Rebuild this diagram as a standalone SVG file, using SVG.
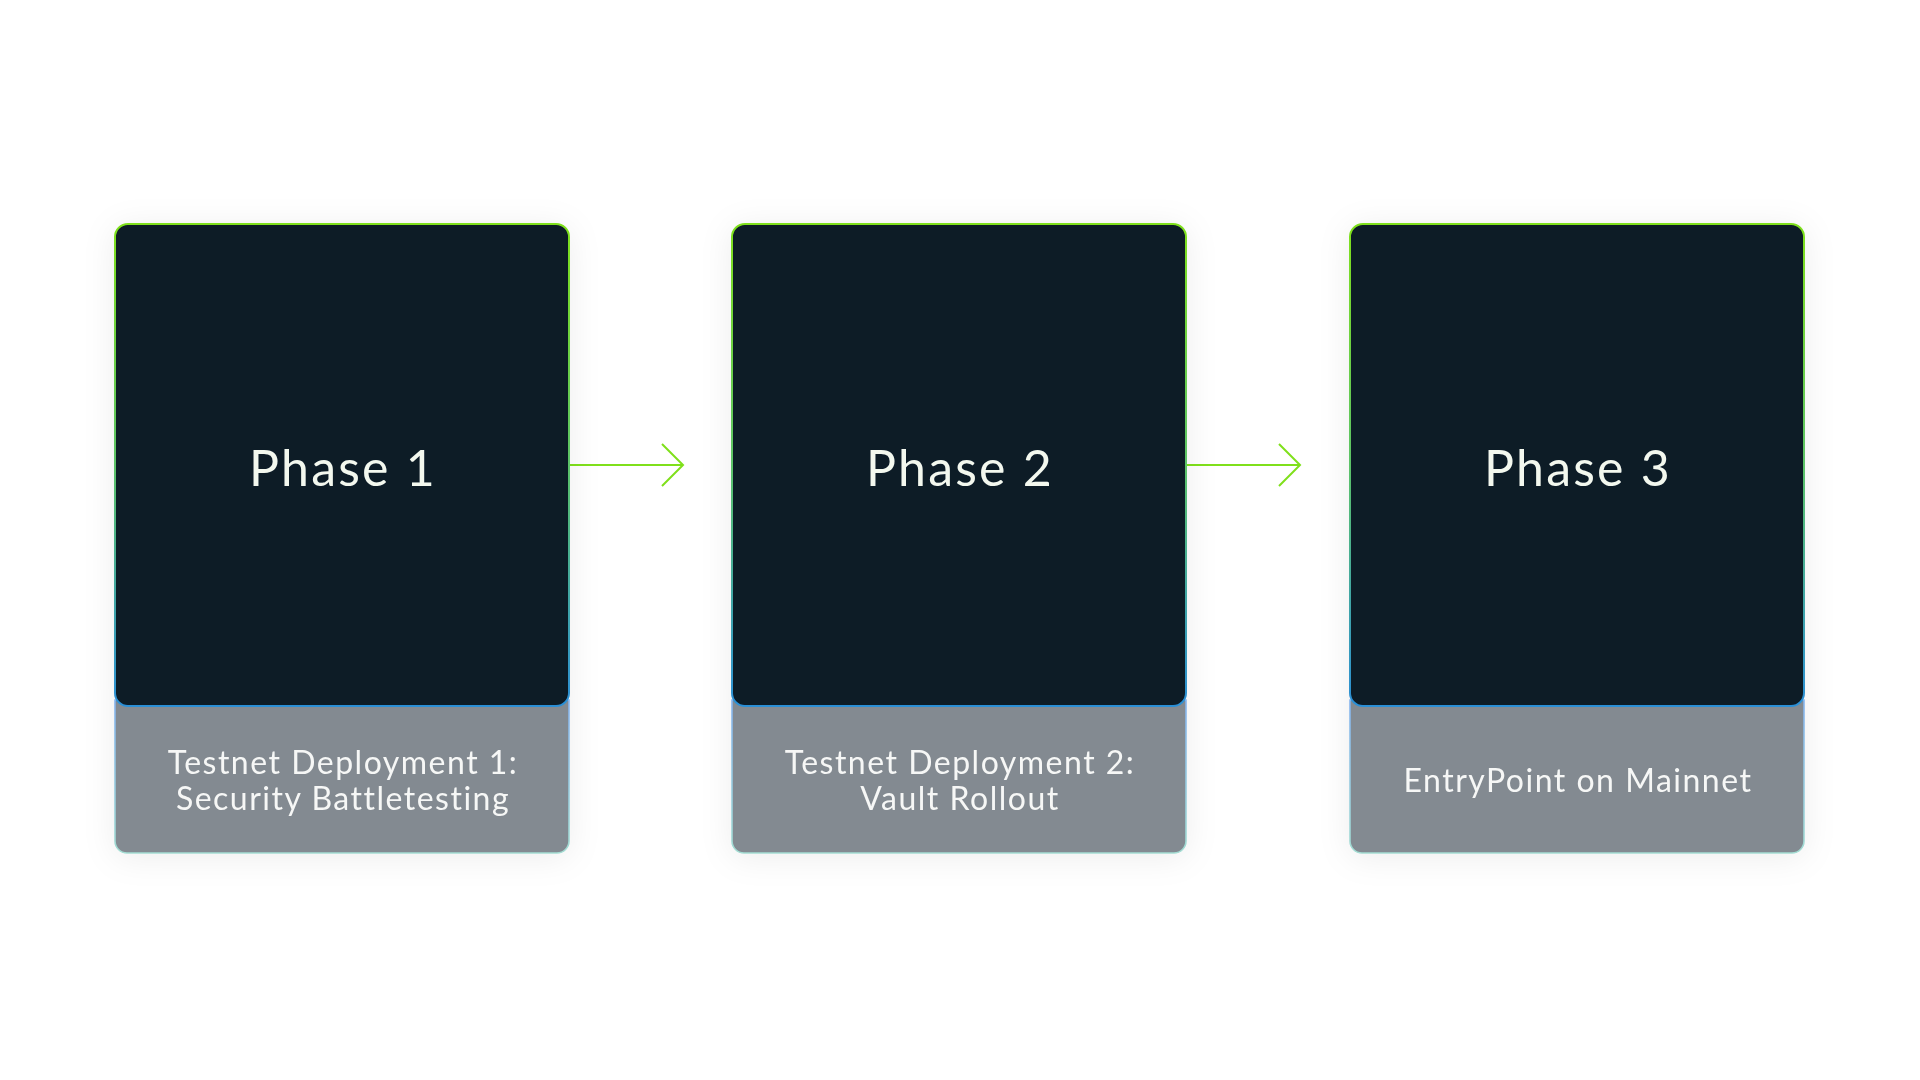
<svg xmlns="http://www.w3.org/2000/svg" width="1920" height="1080" viewBox="0 0 1920 1080">
<defs>
<linearGradient id="gDark" x1="0" y1="0" x2="0" y2="1">
<stop offset="0" stop-color="#7fe01b"/>
<stop offset="0.5" stop-color="#5cc368"/>
<stop offset="1" stop-color="#2b8fd6"/>
</linearGradient>
<linearGradient id="gGray" x1="0" y1="0" x2="0" y2="1">
<stop offset="0" stop-color="#86b4ee"/>
<stop offset="1" stop-color="#a3dcd2"/>
</linearGradient>
<filter id="shadow" x="-20%" y="-20%" width="140%" height="140%">
<feDropShadow dx="0" dy="4" stdDeviation="16" flood-color="#000000" flood-opacity="0.07"/>
</filter>
<marker id="chev" viewBox="0 0 24 44" refX="22" refY="22" markerWidth="24" markerHeight="44" markerUnits="userSpaceOnUse" orient="auto">
<path d="M1,1 L22,22 L1,43" fill="none" stroke="#7fe01b" stroke-width="2"/>
</marker>
</defs>
<style>
.dark{fill:#0a1a28;stroke:url(#gDark);stroke-width:2}
.gray{fill:#838a91;stroke:url(#gGray);stroke-width:1.6}
.title{font-family:Lato,"Open Sans",sans-serif;font-size:50px;letter-spacing:2.2px;fill:#f3f8ee;text-anchor:middle}
.sub{font-family:Lato,"Open Sans",sans-serif;font-size:32px;letter-spacing:1.5px;fill:#f6f7f6;text-anchor:middle}
.conn{stroke:#7fe01b;stroke-width:2;fill:none}
</style>
<rect x="0" y="0" width="1920" height="1080" fill="#ffffff"/>
<g id="connectors">
<line class="conn" x1="570" y1="465" x2="683" y2="465" marker-end="url(#chev)"/>
<line class="conn" x1="1187" y1="465" x2="1300" y2="465" marker-end="url(#chev)"/>
</g>
<g id="phase1" filter="url(#shadow)">
<path class="gray" d="M115,700 H569 V841 A12,12 0 0 1 557,853 H127 A12,12 0 0 1 115,841 Z"/>
<rect class="dark" x="115" y="224" width="454" height="482" rx="13"/>
<text class="title" x="343" y="486">Phase 1</text>
<text class="sub" x="343" y="774">Testnet Deployment 1:</text>
<text class="sub" x="343" y="810">Security Battletesting</text>
</g>
<g id="phase2" filter="url(#shadow)">
<path class="gray" d="M732,700 H1186 V841 A12,12 0 0 1 1174,853 H744 A12,12 0 0 1 732,841 Z"/>
<rect class="dark" x="732" y="224" width="454" height="482" rx="13"/>
<text class="title" x="960" y="486">Phase 2</text>
<text class="sub" x="960" y="774">Testnet Deployment 2:</text>
<text class="sub" x="960" y="810">Vault Rollout</text>
</g>
<g id="phase3" filter="url(#shadow)">
<path class="gray" d="M1350,700 H1804 V841 A12,12 0 0 1 1792,853 H1362 A12,12 0 0 1 1350,841 Z"/>
<rect class="dark" x="1350" y="224" width="454" height="482" rx="13"/>
<text class="title" x="1578" y="486">Phase 3</text>
<text class="sub" x="1578" y="792">EntryPoint on Mainnet</text>
</g>
</svg>
